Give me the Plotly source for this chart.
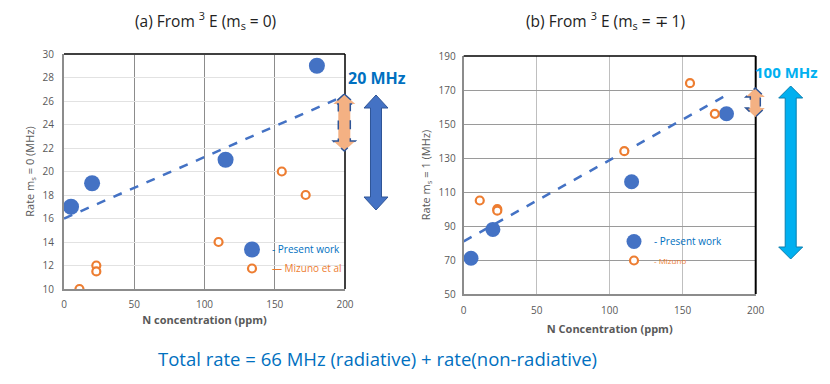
import plotly.graph_objects as go

# the page body has an 8px margin, so the figure is a little smaller and everything is offset
OFF = 8
W, H = 830 - 2 * OFF, 384 - 2 * OFF

# panel (a): m_s = 0
a_present_x = [5, 20, 115, 180]
a_present_y = [17, 19, 21, 29]
a_mizuno_x = [11, 23, 23, 110, 155, 172]
a_mizuno_y = [10, 12, 11.5, 14, 20, 18]
a_trend_x = [0, 195]
a_trend_y = [16, 26.2]

# panel (b): m_s = -/+1
b_present_x = [5, 20, 115, 180]
b_present_y = [71, 88, 116, 156]
b_mizuno_x = [11, 23, 23, 110, 155, 172]
b_mizuno_y = [105, 100, 99, 134, 174, 156]
b_trend_x = [0, 180]
b_trend_y = [81, 167]

BLUE = "#4472C4"
ORANGE = "#ED7D31"
TXT_BLUE = "#0070C0"
GRAY = "#595959"
FONT = "Open Sans"


def px(x):
    return (x - OFF) / W


def py(y):
    return 1 - (y - OFF) / H


def double_arrow(cx, y1, y2, sw, hw, hl):
    pts = [(cx, y1), (cx + hw, y1 + hl), (cx + sw, y1 + hl), (cx + sw, y2 - hl),
           (cx + hw, y2 - hl), (cx, y2), (cx - hw, y2 - hl), (cx - sw, y2 - hl),
           (cx - sw, y1 + hl), (cx - hw, y1 + hl)]
    return "M " + " L ".join(f"{px(x):.5f},{py(y):.5f}" for x, y in pts) + " Z"


fig = go.Figure()

# left panel
fig.add_trace(go.Scatter(x=a_trend_x, y=a_trend_y, mode="lines", showlegend=False,
                         line=dict(color=BLUE, width=2.5, dash="dash"), xaxis="x", yaxis="y"))
fig.add_trace(go.Scatter(x=a_present_x, y=a_present_y, mode="markers", legend="legend",
                         name="<span style='color:#0070C0'>- Present work</span>",
                         marker=dict(color=BLUE, size=16), xaxis="x", yaxis="y"))
fig.add_trace(go.Scatter(x=a_mizuno_x, y=a_mizuno_y, mode="markers", legend="legend",
                         name="<span style='color:#ED7D31'>\u2014 Mizuno et al</span>",
                         marker=dict(color="white", size=8, line=dict(color=ORANGE, width=2.2)),
                         xaxis="x", yaxis="y"))

# right panel
fig.add_trace(go.Scatter(x=b_trend_x, y=b_trend_y, mode="lines", showlegend=False,
                         line=dict(color=BLUE, width=2.5, dash="dash"), xaxis="x2", yaxis="y2"))
fig.add_trace(go.Scatter(x=b_present_x, y=b_present_y, mode="markers", legend="legend2",
                         name="<span style='color:#0070C0'>- Present work</span>",
                         marker=dict(color=BLUE, size=15), xaxis="x2", yaxis="y2"))
fig.add_trace(go.Scatter(x=b_mizuno_x, y=b_mizuno_y, mode="markers", legend="legend2",
                         name="<span style='color:#ED7D31;font-size:8px'>- Mizuno</span>",
                         marker=dict(color="white", size=8, line=dict(color=ORANGE, width=2.2)),
                         xaxis="x2", yaxis="y2"))

tickfont = dict(family=FONT, size=10, color=GRAY)
titlefont = dict(family=FONT, size=11, color=GRAY)

fig.update_layout(
    width=W, height=H, margin=dict(l=0, r=0, t=0, b=0),
    paper_bgcolor="white", plot_bgcolor="white",
    font=dict(family=FONT),
    xaxis=dict(domain=[px(64), px(345)], range=[0, 200], tickvals=[0, 50, 100, 150, 200],
               automargin=False, ticklabelstandoff=5,
               showgrid=True, gridcolor="#8c8c8c", gridwidth=1, zeroline=False,
               showline=True, linecolor="#8c8c8c", linewidth=2, ticks="", tickfont=tickfont,
               title=dict(text="<b>N concentration (ppm)</b>", font=titlefont, standoff=6)),
    yaxis=dict(domain=[py(289), py(54)], range=[10, 30], dtick=2, automargin=False,
               ticklabelstandoff=6,
               showgrid=True, gridcolor="#e2e2e2", gridwidth=1, zeroline=False,
               showline=True, linecolor="#8c8c8c", linewidth=2, ticks="", tickfont=tickfont,
               title=dict(text="Rate m<sub>s</sub> = 0 (MHz)", font=titlefont, standoff=6)),
    xaxis2=dict(domain=[px(463.7), px(755.7)], range=[0, 200], tickvals=[0, 50, 100, 150, 200],
                anchor="y2", automargin=False, ticklabelstandoff=6,
                showgrid=True, gridcolor="#bfbfbf", gridwidth=1, zeroline=False,
                showline=True, linecolor="#8c8c8c", linewidth=2, ticks="", tickfont=tickfont,
                title=dict(text="<b>N Concentration (ppm)</b>", font=titlefont, standoff=9)),
    yaxis2=dict(domain=[py(294), py(56)], range=[50, 190], tick0=50, dtick=20, anchor="x2",
                automargin=False, ticklabelstandoff=4,
                showgrid=True, gridcolor="#9a9a9a", gridwidth=1, zeroline=False,
                showline=True, linecolor="#8c8c8c", linewidth=2, ticks="", tickfont=tickfont,
                title=dict(text="Rate m<sub>s</sub> = 1 (MHz)", font=titlefont, standoff=6)),
    legend=dict(x=px(232), y=py(235), xanchor="left", yanchor="top", bgcolor="rgba(0,0,0,0)",
                font=dict(family=FONT, size=10), itemsizing="trace", tracegroupgap=2),
    legend2=dict(x=px(614), y=py(227), xanchor="left", yanchor="top", bgcolor="rgba(0,0,0,0)",
                 font=dict(family=FONT, size=10), itemsizing="trace", tracegroupgap=2),
)

# frame edges
shapes = [
    dict(type="line", xref="paper", yref="paper", x0=px(64), x1=px(345), y0=py(54), y1=py(54),
         line=dict(color="#404040", width=2)),
    dict(type="line", xref="paper", yref="paper", x0=px(345), x1=px(345), y0=py(54), y1=py(289),
         line=dict(color="black", width=1.5)),
    dict(type="line", xref="paper", yref="paper", x0=px(463.7), x1=px(755.7), y0=py(56), y1=py(56),
         line=dict(color="black", width=1.5)),
    dict(type="line", xref="paper", yref="paper", x0=px(755.7), x1=px(755.7), y0=py(56), y1=py(294),
         line=dict(color="black", width=2)),
    # arrows
    dict(type="path", xref="paper", yref="paper", path=double_arrow(376, 95, 210, 5.5, 12, 13),
         fillcolor=BLUE, line=dict(color="#2F5597", width=1)),
    dict(type="path", xref="paper", yref="paper", path=double_arrow(344.3, 94, 151, 6, 11, 10),
         fillcolor="#F4B183", line=dict(color="#2F5597", width=1.5, dash="dash")),
    dict(type="path", xref="paper", yref="paper", path=double_arrow(790.7, 86, 259, 5.5, 12, 12),
         fillcolor="#00B0F0", line=dict(color="#0a7fb0", width=1)),
    dict(type="path", xref="paper", yref="paper", path=double_arrow(755.3, 88, 117, 5, 9.5, 9),
         fillcolor="#F4B183", line=dict(color="#2F5597", width=1.5, dash="dash")),
]
fig.update_layout(shapes=shapes)

annots = [
    dict(text="(a) From <sup>3</sup> E (m<sub>s</sub> = 0)", x=px(205), y=py(20),
         font=dict(family=FONT, size=15.5, color="#222222")),
    dict(text="(b) From <sup>3</sup> E (m<sub>s</sub> = \u2213 1)", x=px(605), y=py(20),
         font=dict(family=FONT, size=15.5, color="#222222")),
    dict(text="<b>20 MHz</b>", x=px(377), y=py(78),
         font=dict(family=FONT, size=16, color=TXT_BLUE)),
    dict(text="<b>100 MHz</b>", x=px(820), y=py(72), xanchor="right",
         font=dict(family=FONT, size=15, color="#00B0F0")),
    dict(text="Total rate = 66 MHz (radiative) + rate(non-radiative)", x=px(377), y=py(358),
         font=dict(family=FONT, size=18.5, color=TXT_BLUE)),
]
for a in annots:
    a.setdefault("xanchor", "center")
    a.update(xref="paper", yref="paper", showarrow=False, yanchor="middle")
fig.update_layout(annotations=annots)

fig.write_html("out.html")
